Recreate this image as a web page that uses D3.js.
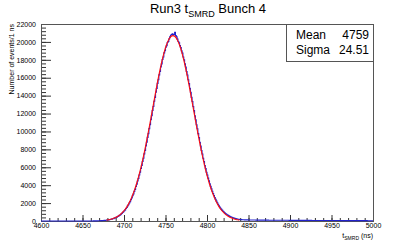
<!DOCTYPE html>
<html>
<head>
<meta charset="utf-8">
<script src="https://cdn.jsdelivr.net/npm/d3@7"></script>
<style>
  body { margin: 0; background: #fff; }
  svg { display: block; font-family: "Liberation Sans", Arial, sans-serif; }
</style>
</head>
<body>
<div id="chart"></div>
<script>
// histogram: 1 ns bins, first bin starts at 4600
var binStart = 4600;
var counts = [
  0,0,1,0,0,0,0,1,0,0,0,0,0,1,0,0,0,1,0,0,
  0,1,0,0,0,1,0,0,1,0,0,0,1,0,1,0,0,1,1,0,
  1,0,1,1,0,2,1,1,0,2,1,2,3,1,2,3,2,4,3,5,
  5,8,7,11,10,14,15,17,23,22,30,31,40,42,53,57,70,75,91,98,
  118,127,155,165,196,212,251,270,318,344,401,436,502,545,624,677,770,836,947,1025,
  1151,1247,1398,1511,1684,1815,2012,2166,2391,2569,2823,3021,3312,3534,3858,4108,4466,4741,5131,5440,
  5860,6195,6648,7010,7495,7878,8390,8797,9336,9754,10312,10745,11320,11760,12341,12782,13370,13801,14385,14802,
  15370,15772,16320,16690,17210,17548,18030,18320,18770,19010,19410,19580,19930,20050,20340,20560,20750,20820,20900,20780,
  20820,21060,20700,20560,20310,20040,19910,19590,19380,19000,18750,18320,18010,17550,17190,16700,16300,15780,15350,14810,
  14370,13810,13350,12790,12330,11760,11310,10750,10300,9760,9330,8800,8380,7880,7490,7010,6640,6200,5850,5440,
  5140,4790,4480,4150,3870,3590,3320,3070,2840,2610,2410,2220,2040,1860,1710,1560,1430,1300,1190,1080,
  1000,910,830,760,690,630,575,520,470,430,390,355,320,290,265,240,220,200,185,170,
  160,150,145,140,135,130,128,125,122,120,118,117,115,112,110,110,108,105,104,102,
  100,104,98,101,96,99,95,97,93,96,92,94,90,93,89,91,88,90,86,89,
  86,83,88,81,84,86,79,83,85,80,82,78,84,79,77,81,76,80,78,75,
  77,73,76,71,75,74,70,73,72,68,74,70,67,71,69,66,70,65,68,66,
  64,67,63,65,62,66,61,63,64,60,62,59,63,58,61,60,57,60,58,56,
  59,55,57,58,54,56,53,57,52,55,54,51,53,50,54,49,52,51,48,50,
  49,47,50,46,48,45,47,46,44,47,43,45,44,42,45,41,43,42,40,42,
  41,39,42,38,40,39,37,40,36,38,37,35,38,34,36,35,33,36,32,34
];

// gaussian fit curve, sampled every 2 ns from 4679
var fitStart = 4679, fitStep = 2;
var fitValues = [
  100,131,169,217,277,350,441,551,684,844,1034,1259,1522,1828,2180,2582,3040,3555,4130,4765,
  5462,6219,7035,7905,8825,9785,10779,11793,12817,13836,14838,15807,16727,17584,18362,19047,19626,20089,20426,20631,
  20700,
  20631,20426,20089,19626,19047,18362,17584,16727,15807,14838,13836,12817,11793,10779,9785,8825,7905,7035,6219,5462,
  4765,4130,3555,3040,2582,2180,1828,1522,1259,1034,844,684,551,441,350,277,217,169,131,100
];

var xTicks = [4600, 4650, 4700, 4750, 4800, 4850, 4900, 4950, 5000];
var yTicks = [0, 2000, 4000, 6000, 8000, 10000, 12000, 14000, 16000, 18000, 20000, 22000];
var statsRows = [["Mean", "4759"], ["Sigma", "24.51"]];

var width = 415, height = 248;
var padLeft = 41, padRight = 373, padTop = 24, padBottom = 221;

var svg = d3.select("#chart").append("svg")
  .attr("width", width).attr("height", height);

var x = d3.scaleLinear().domain([4600, 5000]).range([padLeft, padRight]);
var y = d3.scaleLinear().domain([0, 22000]).range([padBottom, padTop]);

// title
var title = svg.append("text")
  .attr("x", 208).attr("y", 13)
  .attr("text-anchor", "middle")
  .style("font-size", "13px").attr("fill", "#000");
title.append("tspan").text("Run3 t");
title.append("tspan").attr("dy", 3.5).style("font-size", "9px").text("SMRD");
title.append("tspan").attr("dy", -3.5).text(" Bunch 4");

// minor ticks
svg.append("g")
  .attr("transform", "translate(" + padLeft + ",0)")
  .call(d3.axisLeft(y).tickValues(d3.range(0, 22001, 400)).tickSize(-5).tickFormat(""))
  .call(g => g.select(".domain").remove());
svg.append("g")
  .attr("transform", "translate(0," + padBottom + ")")
  .call(d3.axisBottom(x).tickValues(d3.range(4600, 5001, 10)).tickSize(-3).tickFormat(""))
  .call(g => g.select(".domain").remove());

// major ticks + labels
var yAxis = svg.append("g")
  .attr("transform", "translate(" + padLeft + ",0)")
  .call(d3.axisLeft(y).tickValues(yTicks).tickSize(-10).tickPadding(5).tickFormat(d3.format("d")));
yAxis.select(".domain").remove();

var xAxis = svg.append("g")
  .attr("transform", "translate(0," + padBottom + ")")
  .call(d3.axisBottom(x).tickValues(xTicks).tickSize(-6).tickPadding(2.5).tickFormat(d3.format("d")));
xAxis.select(".domain").remove();

svg.selectAll(".tick text").style("font-size", "7px").attr("fill", "#000")
  .style("font-family", "'Liberation Sans', Arial, sans-serif");
svg.selectAll(".tick line").attr("stroke", "#333");

// frame
svg.append("rect")
  .attr("x", padLeft + 0.5).attr("y", padTop + 0.5)
  .attr("width", padRight - padLeft).attr("height", padBottom - padTop)
  .attr("fill", "none").attr("stroke", "#555").attr("stroke-width", 1);

// histogram as steps
var steps = counts.map((c, i) => [binStart + i, c]);
steps.push([binStart + counts.length, counts[counts.length - 1]]);
svg.append("path")
  .datum(steps)
  .attr("fill", "none")
  .attr("stroke", "#2222cc")
  .attr("stroke-width", 1.1)
  .attr("d", d3.line().curve(d3.curveStepAfter)
    .x(d => x(d[0])).y(d => y(d[1])));

// fit
svg.append("path")
  .datum(fitValues.map((v, i) => [fitStart + i * fitStep, v]))
  .attr("fill", "none")
  .attr("stroke", "#ff1010")
  .attr("stroke-width", 1.1)
  .attr("d", d3.line().curve(d3.curveMonotoneX)
    .x(d => x(d[0])).y(d => y(d[1])));

// stats box
svg.append("rect")
  .attr("x", 286.5).attr("y", padTop + 0.5)
  .attr("width", padRight - 286).attr("height", 37)
  .attr("fill", "#fff").attr("stroke", "#555");
statsRows.forEach(function(r, i) {
  svg.append("text").attr("x", 296).attr("y", 39 + i * 14.5)
    .style("font-size", "12px").text(r[0]);
  svg.append("text").attr("x", 369).attr("y", 39 + i * 14.5)
    .attr("text-anchor", "end").style("font-size", "12px").text(r[1]);
});

// y axis title
svg.append("text")
  .attr("transform", "translate(14," + padTop + ") rotate(-90)")
  .attr("text-anchor", "end")
  .style("font-size", "7px")
  .text("Number of events/1 ns");

// x axis title
var xt = svg.append("text")
  .attr("x", padRight).attr("y", 238)
  .attr("text-anchor", "end")
  .style("font-size", "7px");
xt.append("tspan").text("t");
xt.append("tspan").attr("dy", 2).style("font-size", "5px").text("SMRD");
xt.append("tspan").attr("dy", -2).text(" (ns)");
</script>
</body>
</html>
